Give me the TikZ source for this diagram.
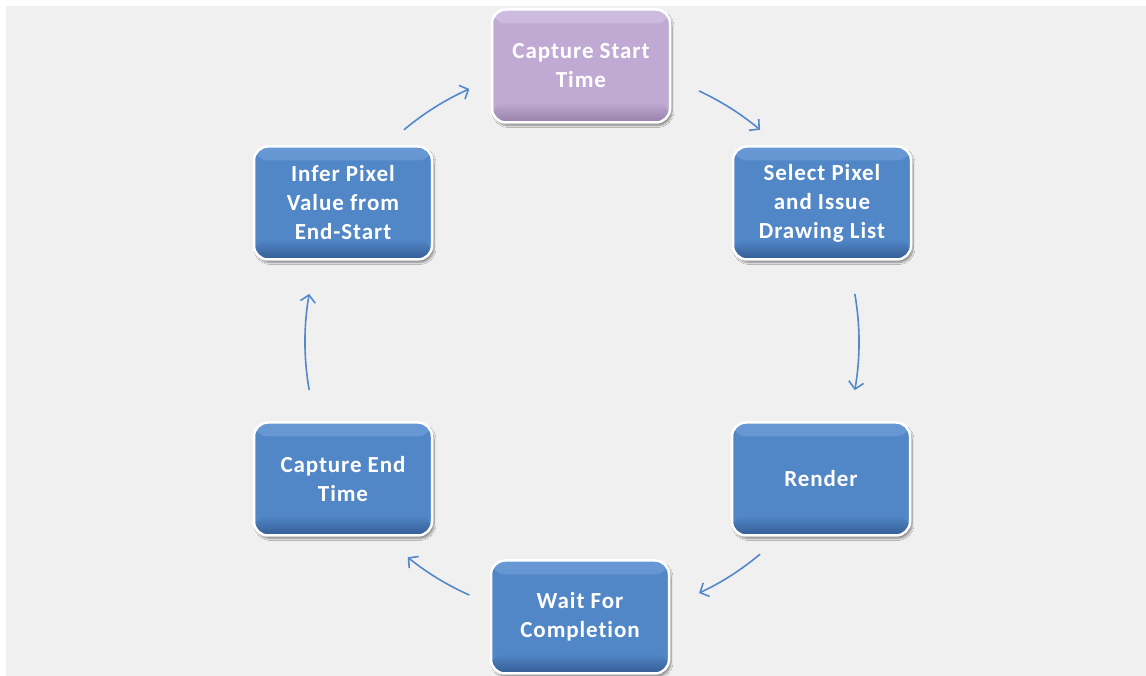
\documentclass[tikz,border=0pt]{standalone}
\usepackage{fontspec}
\setmainfont{Carlito}[LetterSpace=4, Ligatures=NoCommon]
\usetikzlibrary{arrows.meta,shadows.blur}

\definecolor{pagebg}{RGB}{240,240,240}
\definecolor{bluebase}{RGB}{81,134,199}
\definecolor{bluelight}{RGB}{104,153,212}
\definecolor{bluedark}{RGB}{52,92,148}
\definecolor{lilacbase}{RGB}{192,170,212}
\definecolor{lilaclight}{RGB}{206,188,224}
\definecolor{lilacdark}{RGB}{150,128,170}
\definecolor{flowblue}{RGB}{84,136,204}

\tikzset{
  stepbox/.style={
    rounded corners=14pt, minimum width=178pt, minimum height=113pt,
    draw=white, line width=2.5pt, align=center, text=white,
    font=\bfseries\fontsize{23}{29}\selectfont,
    blur shadow={shadow xshift=2pt, shadow yshift=-3pt, shadow blur steps=8, shadow opacity=45},
  },
  bluebox/.style={stepbox, fill=bluebase,
    path picture={
      \fill[top color=bluelight, bottom color=bluebase]
        (path picture bounding box.north west) rectangle
        ([yshift=-14pt]path picture bounding box.north east);
      \fill[top color=bluebase, bottom color=bluedark]
        ([yshift=20pt]path picture bounding box.south west) rectangle
        (path picture bounding box.south east);
    }},
  lilacbox/.style={stepbox, fill=lilacbase,
    path picture={
      \fill[top color=lilaclight, bottom color=lilacbase]
        (path picture bounding box.north west) rectangle
        ([yshift=-14pt]path picture bounding box.north east);
      \fill[top color=lilacbase, bottom color=lilacdark]
        ([yshift=20pt]path picture bounding box.south west) rectangle
        (path picture bounding box.south east);
    }},
  flow/.style={draw=flowblue, line width=1.6pt,
    -{Straight Barb[length=7pt,width=15pt,line width=1.6pt]}},
}

\begin{document}
\begin{tikzpicture}[x=1pt,y=1pt]
  % page and panel
  \fill[white] (0,0) rectangle (1146,676);
  \fill[pagebg] (6,0) rectangle (1146,670);
  \useasboundingbox (0,0) rectangle (1146,676);

  % the six steps of the timing loop
  \node[lilacbox] (start)  at (581,610) {Capture Start\\Time};
  \node[bluebox]  (select) at (822,473) {Select Pixel\\and Issue\\Drawing List};
  \node[bluebox]  (render) at (821,197) {Render};
  \node[bluebox]  (wait)   at (580,59)  {Wait For\\Completion};
  \node[bluebox]  (endt)   at (343,197) {Capture End\\Time};
  \node[bluebox]  (infer)  at (343,473) {Infer Pixel\\Value from\\End-Start};

  % arcs of the loop, all on one circle
  \coordinate (c) at (582,334);
  \def\rad{277}
  \draw[flow] ([shift={(130:\rad)}]c) arc[start angle=130, end angle=114, radius=\rad];
  \draw[flow] ([shift={(65:\rad)}]c)  arc[start angle=65,  end angle=50,  radius=\rad];
  \draw[flow] ([shift={(10:\rad)}]c)  arc[start angle=10,  end angle=-10, radius=\rad];
  \draw[flow] ([shift={(-50:\rad)}]c) arc[start angle=-50, end angle=-65, radius=\rad];
  \draw[flow] ([shift={(-114:\rad)}]c) arc[start angle=-114, end angle=-129, radius=\rad];
  \draw[flow] ([shift={(190:\rad)}]c) arc[start angle=190, end angle=170, radius=\rad];
\end{tikzpicture}
\end{document}
